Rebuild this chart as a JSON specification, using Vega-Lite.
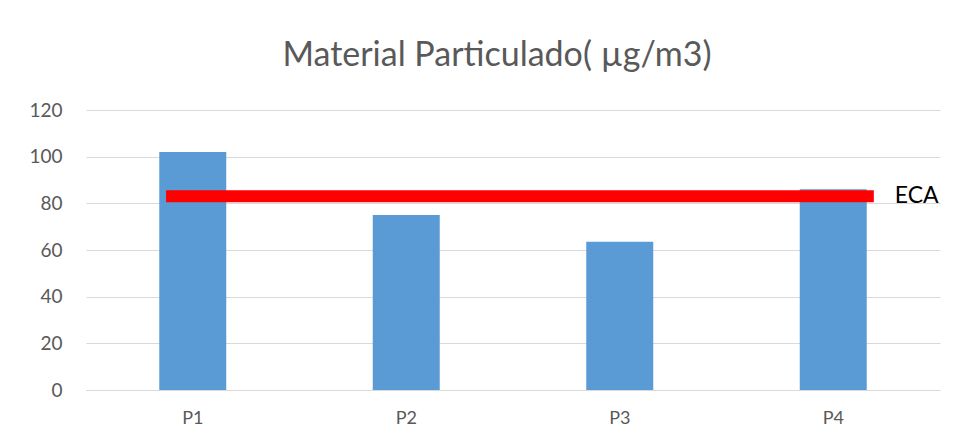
{
  "$schema": "https://vega.github.io/schema/vega-lite/v6.json",
  "width": 854,
  "height": 280,
  "autosize": "none",
  "padding": {"left": 86, "top": 110, "right": 15, "bottom": 54},
  "background": "white",
  "config": {
    "view": {"stroke": null},
    "font": "Lato"
  },
  "title": {
    "text": "Material Particulado( µg/m3)",
    "font": "Lato",
    "fontSize": 34,
    "fontWeight": "normal",
    "color": "#595959",
    "offset": 28,
    "dx": -16
  },
  "layer": [
    {
      "data": {
        "values": [
          {"punto": "P1", "valor": 102},
          {"punto": "P2", "valor": 75},
          {"punto": "P3", "valor": 63.5},
          {"punto": "P4", "valor": 86}
        ]
      },
      "mark": {"type": "bar", "color": "#5b9bd5", "size": 67},
      "encoding": {
        "x": {
          "field": "punto",
          "type": "nominal",
          "scale": {"paddingInner": 0, "paddingOuter": 0},
          "axis": {
            "title": null,
            "labelAngle": 0,
            "ticks": false,
            "domain": true,
            "domainColor": "#d9d9d9",
            "labelPadding": 19,
            "labelFontSize": 18,
            "labelColor": "#595959",
            "labelFont": "Lato"
          }
        },
        "y": {
          "field": "valor",
          "type": "quantitative",
          "scale": {"domain": [0, 120]},
          "axis": {
            "title": null,
            "values": [0, 20, 40, 60, 80, 100, 120],
            "grid": true,
            "gridColor": "#d9d9d9",
            "domain": false,
            "ticks": false,
            "labelPadding": 24,
            "labelFontSize": 19,
            "labelColor": "#595959",
            "labelFont": "Lato"
          }
        }
      }
    },
    {
      "data": {"values": [{"x": 0.375, "x2": 3.69, "y": 83, "label": "ECA"}]},
      "layer": [
        {
          "mark": {"type": "rule", "color": "#ff0000", "strokeWidth": 12},
          "encoding": {
            "x": {"field": "x", "type": "quantitative", "scale": {"domain": [0, 4]}, "axis": null},
            "x2": {"field": "x2"},
            "y": {"field": "y", "type": "quantitative", "scale": {"domain": [0, 120]}}
          }
        },
        {
          "mark": {"type": "text", "align": "left", "baseline": "middle", "dx": 21, "fontSize": 23, "font": "Lato", "color": "#000000"},
          "encoding": {
            "x": {"field": "x2", "type": "quantitative", "scale": {"domain": [0, 4]}, "axis": null},
            "y": {"field": "y", "type": "quantitative", "scale": {"domain": [0, 120]}},
            "text": {"field": "label"}
          }
        }
      ]
    }
  ],
  "resolve": {"scale": {"x": "independent"}}
}
